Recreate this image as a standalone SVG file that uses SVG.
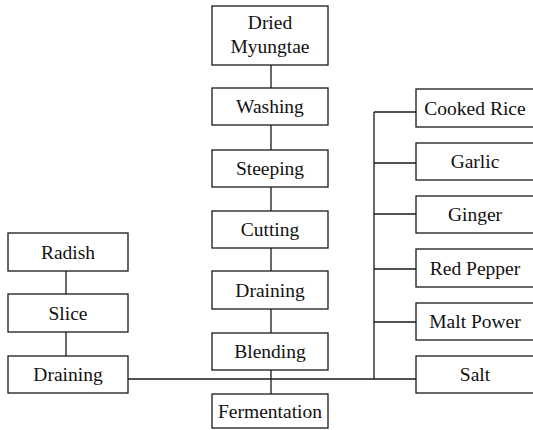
<svg xmlns="http://www.w3.org/2000/svg" width="533" height="430" viewBox="0 0 533 430" font-family="'Liberation Serif', 'DejaVu Serif', serif">
<style>
.box{fill:#fff;stroke:#1a1a1a;stroke-width:1.3}
.lbl{font-size:19.5px;fill:#111;text-anchor:middle}
.ln{stroke:#1a1a1a;stroke-width:1.3;fill:none}
</style>
<rect width="533" height="430" fill="#fff"/>
<g id="connectors">
<line class="ln" x1="271" y1="65" x2="271" y2="394"/>
<line class="ln" x1="66" y1="271" x2="66" y2="356"/>
<line class="ln" x1="128" y1="379" x2="416" y2="379"/>
<line class="ln" x1="374" y1="112" x2="374" y2="379"/>
<line class="ln" x1="374" y1="112" x2="416" y2="112"/>
<line class="ln" x1="374" y1="163" x2="416" y2="163"/>
<line class="ln" x1="374" y1="214" x2="416" y2="214"/>
<line class="ln" x1="374" y1="269" x2="416" y2="269"/>
<line class="ln" x1="374" y1="322" x2="416" y2="322"/>
</g>
<g id="dried-myungtae"><rect class="box" x="212" y="6" width="116" height="59"/><text class="lbl" font-family="Liberation Serif" x="270" y="29">Dried</text><text class="lbl" font-family="Liberation Serif" x="270" y="53">Myungtae</text></g>
<g id="washing"><rect class="box" x="212" y="88" width="116" height="37"/><text class="lbl" font-family="Liberation Serif" x="270" y="113">Washing</text></g>
<g id="steeping"><rect class="box" x="212" y="150" width="116" height="37"/><text class="lbl" font-family="Liberation Serif" x="270" y="175">Steeping</text></g>
<g id="cutting"><rect class="box" x="212" y="211" width="116" height="37"/><text class="lbl" font-family="Liberation Serif" x="270" y="236">Cutting</text></g>
<g id="draining-main"><rect class="box" x="212" y="271" width="116" height="38"/><text class="lbl" font-family="Liberation Serif" x="270" y="297">Draining</text></g>
<g id="blending"><rect class="box" x="212" y="333" width="116" height="37"/><text class="lbl" font-family="Liberation Serif" x="270" y="358">Blending</text></g>
<g id="fermentation"><rect class="box" x="212" y="394" width="116" height="34"/><text class="lbl" font-family="Liberation Serif" x="270" y="418">Fermentation</text></g>
<g id="radish"><rect class="box" x="8" y="233" width="120" height="38"/><text class="lbl" font-family="Liberation Serif" x="68" y="259">Radish</text></g>
<g id="slice"><rect class="box" x="8" y="294" width="120" height="38"/><text class="lbl" font-family="Liberation Serif" x="68" y="320">Slice</text></g>
<g id="draining-radish"><rect class="box" x="8" y="356" width="120" height="37"/><text class="lbl" font-family="Liberation Serif" x="68" y="381">Draining</text></g>
<g id="cooked-rice"><rect class="box" x="416" y="89" width="120" height="38"/><text class="lbl" font-family="Liberation Serif" x="475" y="115">Cooked Rice</text></g>
<g id="garlic"><rect class="box" x="416" y="143" width="120" height="37"/><text class="lbl" font-family="Liberation Serif" x="475" y="168">Garlic</text></g>
<g id="ginger"><rect class="box" x="416" y="196" width="120" height="37"/><text class="lbl" font-family="Liberation Serif" x="475" y="221">Ginger</text></g>
<g id="red-pepper"><rect class="box" x="416" y="249" width="120" height="38"/><text class="lbl" font-family="Liberation Serif" x="475" y="275">Red Pepper</text></g>
<g id="malt-power"><rect class="box" x="416" y="303" width="120" height="37"/><text class="lbl" font-family="Liberation Serif" x="475" y="328">Malt Power</text></g>
<g id="salt"><rect class="box" x="416" y="356" width="120" height="37"/><text class="lbl" font-family="Liberation Serif" x="475" y="381">Salt</text></g>
</svg>
